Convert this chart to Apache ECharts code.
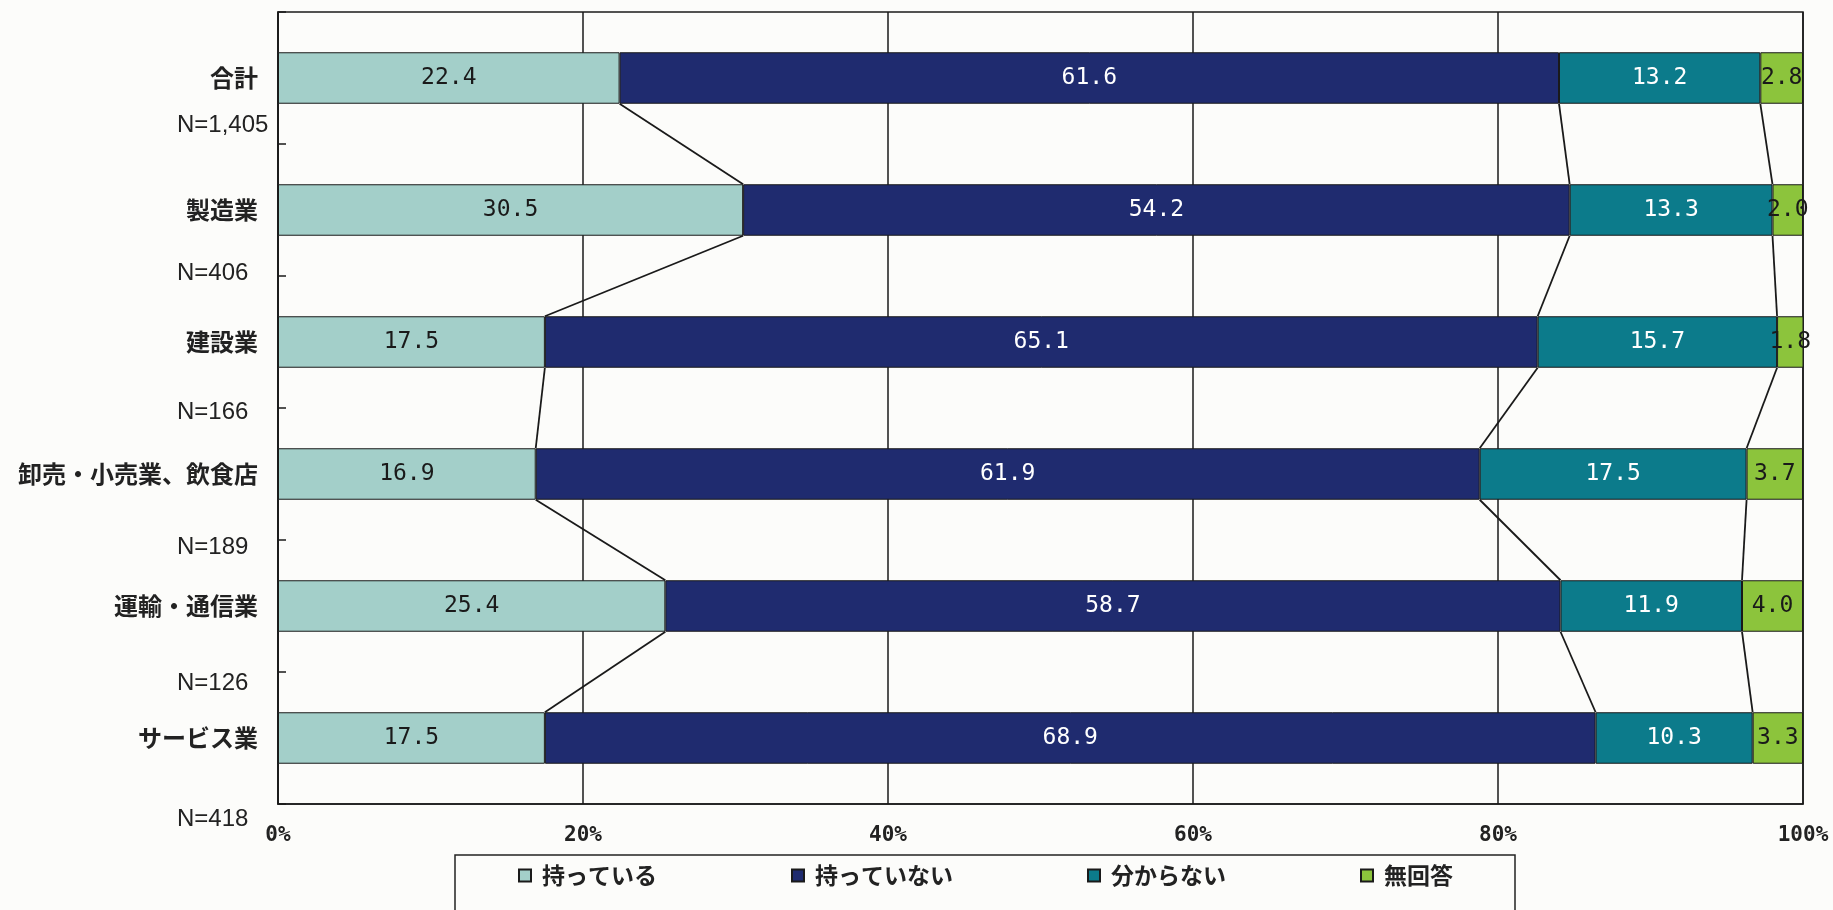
<!DOCTYPE html>
<html>
<head>
<meta charset="utf-8">
<script src="https://cdn.jsdelivr.net/npm/echarts@6/dist/echarts.min.js"></script>
<style>
html,body{margin:0;padding:0;background:#fcfcfa;}
#c{width:1833px;height:910px;}
</style>
</head>
<body>
<div id="c"></div>
<script>
const categories = ['合計', '製造業', '建設業', '卸売・小売業、飲食店', '運輸・通信業', 'サービス業'];
const sampleSizes = ['N=1,405', 'N=406', 'N=166', 'N=189', 'N=126', 'N=418'];
const seriesNames = ['持っている', '持っていない', '分からない', '無回答'];
const have = [22.4, 30.5, 17.5, 16.9, 25.4, 17.5];
const notHave = [61.6, 54.2, 65.1, 61.9, 58.7, 68.9];
const unknown = [13.2, 13.3, 15.7, 17.5, 11.9, 10.3];
const noAnswer = [2.8, 2.0, 1.8, 3.7, 4.0, 3.3];

const colors = ['#a3cfc9', '#1f2b6f', '#0c7b8b', '#8cc43c'];
const labelColors = ['#1a1a1a', '#ffffff', '#ffffff', '#1a1a1a'];
const values = [have, notHave, unknown, noAnswer];
const BAR_FRAC = 0.39;
const nOffsets = [49, 65, 72, 75, 79, 83];

const chart = echarts.init(document.getElementById('c'));

const barSeries = seriesNames.map((name, k) => ({
  name: name,
  type: 'bar',
  stack: 'total',
  barWidth: (BAR_FRAC * 100) + '%',
  data: values[k],
  itemStyle: { color: colors[k], borderColor: '#1a1a1a', borderWidth: 1 },
  label: {
    show: true,
    position: 'inside',
    formatter: p => Number(p.value).toFixed(1),
    color: labelColors[k],
    fontFamily: 'DejaVu Sans Mono',
    fontSize: 23
  },
  emphasis: { disabled: true }
}));

const connector = {
  type: 'custom',
  silent: true,
  z: 5,
  encode: { x: 0, y: 1 },
  data: [0, 1, 2, 3, 4].map(i => [0, i]),
  renderItem: function (params, api) {
    const i = api.value(1);
    const band = api.size([0, 1])[1];
    const half = band * BAR_FRAC / 2;
    let c1 = 0, c2 = 0;
    const children = [];
    for (let k = 0; k < 3; k++) {
      c1 += values[k][i];
      c2 += values[k][i + 1];
      const p1 = api.coord([c1, i]);
      const p2 = api.coord([c2, i + 1]);
      children.push({
        type: 'line',
        shape: { x1: p1[0], y1: p1[1] + half, x2: p2[0], y2: p2[1] - half },
        style: { stroke: '#1a1a1a', lineWidth: 1.8 }
      });
    }
    return { type: 'group', children: children };
  }
};

chart.setOption({
  backgroundColor: '#fcfcfa',
  animation: false,
  grid: { left: 278, right: 30, top: 12, bottom: 106, show: true, borderColor: '#1a1a1a', borderWidth: 1.5, backgroundColor: 'transparent' },
  xAxis: {
    type: 'value', min: 0, max: 100, interval: 20,
    axisLine: { show: true, lineStyle: { color: '#1a1a1a', width: 1.5 } },
    axisTick: { show: false },
    splitLine: { show: true, lineStyle: { color: '#1a1a1a', width: 1.5 } },
    axisLabel: { formatter: '{value}%', color: '#222', fontWeight: 'bold', fontSize: 21, fontFamily: 'DejaVu Sans Mono', margin: 21 }
  },
  yAxis: {
    type: 'category', inverse: true, data: categories,
    axisLine: { show: true, lineStyle: { color: '#1a1a1a', width: 1.5 } },
    axisTick: { show: true, inside: true, length: 8, lineStyle: { color: '#1a1a1a', width: 1.5 } },
    axisLabel: { color: '#222', fontWeight: 'bold', fontSize: 24, fontFamily: 'Noto Sans CJK JP', margin: 20 }
  },
  legend: {
    data: seriesNames,
    left: 455, top: 855,
    padding: [9, 62, 40, 63],
    borderColor: '#222', borderWidth: 1.5,
    itemGap: 134, itemWidth: 12, itemHeight: 12,
    icon: 'rect',
    selectedMode: false,
    textStyle: { color: '#222', fontSize: 23, fontWeight: 'bold', fontFamily: 'Noto Sans CJK JP', padding: [0, 0, 0, 6] }
  },
  series: barSeries.concat([connector])
});

const graphics = sampleSizes.map((s, i) => {
  const y = chart.convertToPixel({ yAxisIndex: 0 }, categories[i]);
  return {
    type: 'text', left: 177, top: y + nOffsets[i] - 14,
    style: { text: s, fill: '#222', font: '24px "Liberation Sans"' }
  };
});
chart.setOption({ graphic: graphics });
</script>
</body>
</html>
